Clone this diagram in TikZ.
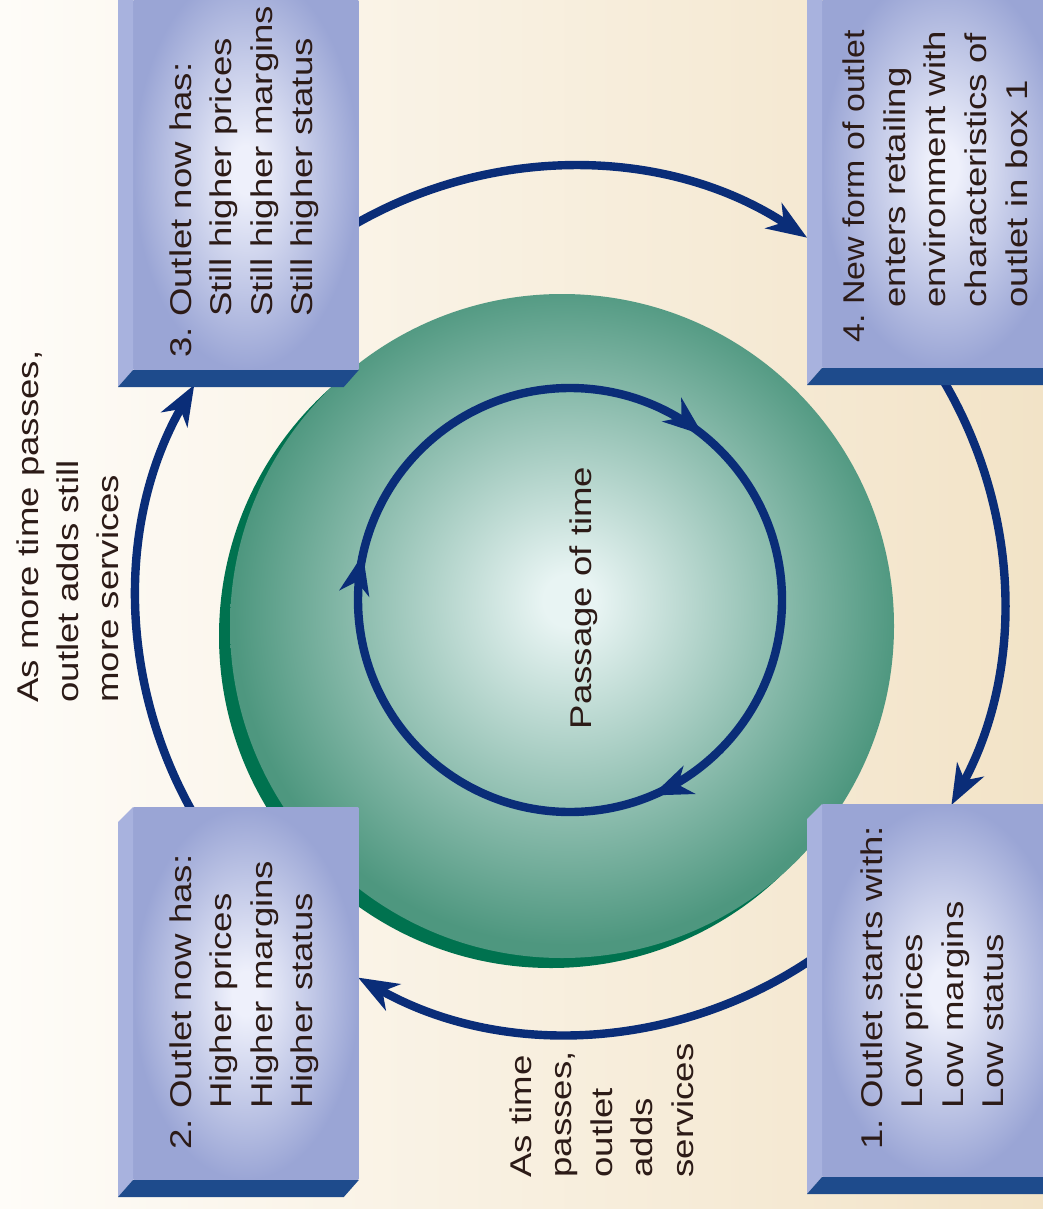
\documentclass[tikz,border=0pt]{standalone}
\usepackage{fontspec}
\setmainfont{Liberation Sans}
\usepackage{graphicx}
\usetikzlibrary{arrows.meta,decorations.markings,calc}

\definecolor{bgL}{HTML}{FEFCF8}
\definecolor{bgR}{HTML}{F2E3C7}
\definecolor{navy}{HTML}{0A2D78}
\definecolor{discC}{HTML}{E8F4F3}
\definecolor{discE}{HTML}{4E977F}
\definecolor{rim}{HTML}{00724F}
\definecolor{faceC}{HTML}{EEF0FB}
\definecolor{faceE}{HTML}{9AA5D5}
\definecolor{bevel}{HTML}{A8B2DE}
\definecolor{strip}{HTML}{1E4B8C}
\definecolor{ink}{HTML}{2C1B17}

\pgfdeclareradialshading{discshade}{\pgfpoint{0.6bp}{2bp}}{color(0bp)=(discC); color(2bp)=(discC); color(25bp)=(discE); color(50bp)=(discE)}
\pgfdeclareradialshading{faceshade}{\pgfpointorigin}{color(0bp)=(faceC); color(3bp)=(faceC); color(25bp)=(faceE); color(50bp)=(faceE)}

\newcommand\txt[1]{\scalebox{1.22}[1]{#1}}
\newcommand\txtn[1]{\scalebox{1.13}[1]{#1}}
\newcommand\boxslab[1]{%
  \fill[bevel] (#1.north west) -- (#1.south west) -- ++(-15,17) -- ([shift={(-15,15)}]#1.north west) -- cycle;
  \fill[strip] (#1.south west) -- (#1.south east) -- ++(-15,17) -- ([shift={(-15,17)}]#1.south west) -- cycle;
}

\tikzset{
  lbl/.style={rotate=90, anchor=base west, inner sep=0pt, text=ink,
    font=\fontsize{15pt}{18pt}\selectfont\frenchspacing},
  face/.style={shade, shading=faceshade, draw=none, inner sep=0pt, anchor=south west},
  cyclearc/.style={draw=navy, line width=4.2pt, -{Stealth[length=20pt, width=15pt, inset=6pt]}},
}

\begin{document}
\begin{tikzpicture}[x=0.5pt, y=-0.5pt]
\clip (0,0) rectangle (1043,1209);
\shade[left color=bgL, right color=bgR] (0,0) rectangle (1043,1209);
\coordinate (O) at (570,600);

% big disc
\fill[rim] (551,636) circle[radius=332];
\shade[shading=discshade] (562,626) circle[radius=332];

% outer cycle arrows
\coordinate (s12) at ([shift={(50:433)}]O);
\coordinate (s23) at ([shift={(145:433)}]O);
\coordinate (s34) at ([shift={(235:433)}]O);
\coordinate (s41) at ([shift={(320:433)}]O);
\draw[cyclearc] (s12) arc[start angle=50, end angle=119.3, radius=433];
\draw[cyclearc] (s23) arc[start angle=145, end angle=209.8, radius=433];
\draw[cyclearc] (s34) arc[start angle=235, end angle=303.2, radius=433];
\draw[cyclearc] (s41) arc[start angle=320, end angle=388.26, radius=433];

% boxes
\node[face, minimum width=112.5pt, minimum height=186pt] (b2) at (133,1180) {};
\node[face, minimum width=112.5pt, minimum height=200pt] (b3) at (133,370) {};
\node[face, minimum width=121.5pt, minimum height=199pt] (b4) at (822,368) {};
\node[face, minimum width=121.5pt, minimum height=186pt] (b1) at (822,1177) {};
\boxslab{b1}
\boxslab{b2}
\boxslab{b3}
\boxslab{b4}

% inner circle
\coordinate (i0) at ([shift={(0:212)}]O);
\draw[navy, line width=4.2pt, postaction=decorate,
  decoration={markings,
    mark=at position 0.1867 with {\arrow{Stealth[length=20pt, width=15pt, inset=6pt]}},
    mark=at position 0.5347 with {\arrow{Stealth[length=20pt, width=15pt, inset=6pt]}},
    mark=at position 0.8581 with {\arrow{Stealth[length=20pt, width=15pt, inset=6pt]}}}]
  (i0) arc[start angle=0, end angle=360, radius=212];

% box texts
\node[lbl] (t1a) at (882,1150) {\txt{1. Outlet starts with:}};
\node[lbl] (t1b) at (922.5,1150) {\txt{\phantom{1. }Low prices}};
\node[lbl] (t1c) at (963,1150) {\txt{\phantom{1. }Low margins}};
\node[lbl] (t1d) at (1003.5,1150) {\txt{\phantom{1. }Low status}};

\node[lbl] (t2a) at (191,1150) {\txt{2. Outlet now has:}};
\node[lbl] (t2b) at (231.5,1150) {\txt{\phantom{2. }Higher prices}};
\node[lbl] (t2c) at (272,1150) {\txt{\phantom{2. }Higher margins}};
\node[lbl] (t2d) at (312.5,1150) {\txt{\phantom{2. }Higher status}};

\node[lbl] (t3a) at (191,358) {\txt{3. Outlet now has:}};
\node[lbl] (t3b) at (231.5,358) {\txt{\phantom{3. }Still higher prices}};
\node[lbl] (t3c) at (272,358) {\txt{\phantom{3. }Still higher margins}};
\node[lbl] (t3d) at (312.5,358) {\txt{\phantom{3. }Still higher status}};

\node[lbl] (t4a) at (864,343) {\txtn{4. New form of outlet}};
\node[lbl] (t4b) at (905,308) {\txt{enters retailing}};
\node[lbl] (t4c) at (945.5,308) {\txt{environment with}};
\node[lbl] (t4d) at (986.5,308) {\txt{characteristics of}};
\node[lbl] (t4e) at (1027,308) {\txt{outlet in box 1}};

% outside labels
\node[lbl] (la) at (38,703) {\txt{As more time passes,}};
\node[lbl] (lb) at (78,703) {\txt{outlet adds still}};
\node[lbl] (lc) at (118,703) {\txt{more services}};

\node[lbl] (ma) at (531,1178) {\txt{As time}};
\node[lbl] (mb) at (571.5,1178) {\txt{passes,}};
\node[lbl] (mc) at (612,1178) {\txt{outlet}};
\node[lbl] (md) at (652.5,1178) {\txt{adds}};
\node[lbl] (me) at (693,1178) {\txt{services}};

\node[lbl, anchor=base] (pt) at (591,598) {\txt{Passage of time}};
\end{tikzpicture}
\end{document}
